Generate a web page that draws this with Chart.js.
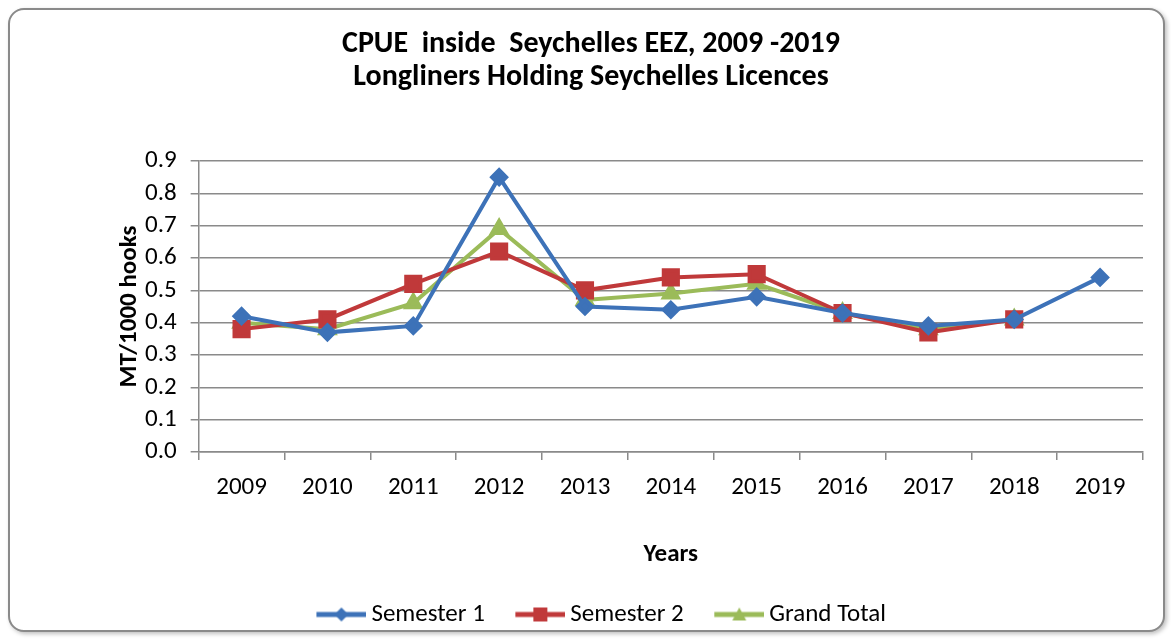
<!DOCTYPE html>
<html>
<head>
<meta charset="utf-8">
<script src="https://cdn.jsdelivr.net/npm/chart.js@4.4.0/dist/chart.umd.min.js"></script>
<style>
  body { margin: 0; background: #fff; }
  #frame {
    position: absolute; left: 8px; top: 8px; width: 1153px; height: 620px;
    border: 2px solid #8a8a8a; border-radius: 16px; background: #fff;
    box-shadow: 2px 2px 4px rgba(0,0,0,0.25);
  }
  #frame canvas { display: block; }
</style>
</head>
<body>
<div id="frame"><canvas id="cpueChart" width="1153" height="620"></canvas></div>
<script>
// Chart data
const years = ['2009', '2010', '2011', '2012', '2013', '2014', '2015', '2016', '2017', '2018', '2019'];
const semester1 = [0.42, 0.37, 0.39, 0.85, 0.45, 0.44, 0.48, 0.43, 0.39, 0.41, 0.54];
const semester2 = [0.38, 0.41, 0.52, 0.62, 0.50, 0.54, 0.55, 0.43, 0.37, 0.41, null];
const grandTotal = [0.40, 0.38, 0.46, 0.69, 0.47, 0.49, 0.52, 0.43, 0.38, 0.41, null];
const yTicks = [0.0, 0.1, 0.2, 0.3, 0.4, 0.5, 0.6, 0.7, 0.8, 0.9];

const FONT = 'Carlito, "Open Sans", sans-serif';
const BLUE = '#3d72b8';
const RED = '#c0393a';
const GREEN = '#9bbb59';

// legend image: empty space on the left, then a line with the marker in its middle
function legendIcon(color, style) {
    const c = document.createElement('canvas');
    c.width = 78; c.height = 18;
    const g = c.getContext('2d');
    g.strokeStyle = color; g.fillStyle = color; g.lineWidth = 5;
    g.beginPath(); g.moveTo(28, 9); g.lineTo(78, 9); g.stroke();
    g.beginPath();
    if (style === 'rect') {
        g.rect(46, 2, 14, 14);
    } else if (style === 'rectRot') {
        g.moveTo(53, 2); g.lineTo(60, 9); g.lineTo(53, 16); g.lineTo(46, 9); g.closePath();
    } else {
        g.moveTo(53, 2); g.lineTo(60, 15); g.lineTo(46, 15); g.closePath();
    }
    g.fill();
    return c;
}

const ctx = document.getElementById('cpueChart').getContext('2d');
new Chart(ctx, {
    type: 'line',
    data: {
        labels: years,
        datasets: [
            { label: 'Semester 1', data: semester1, borderColor: BLUE, backgroundColor: BLUE,
              borderWidth: 4, pointStyle: 'rectRot', pointRadius: 7, tension: 0,
              icon: legendIcon(BLUE, 'rectRot') },
            { label: 'Semester 2', data: semester2, borderColor: RED, backgroundColor: RED,
              borderWidth: 4, pointStyle: 'rect', pointRadius: 10, tension: 0,
              icon: legendIcon(RED, 'rect') },
            { label: 'Grand Total', data: grandTotal, borderColor: GREEN, backgroundColor: GREEN,
              borderWidth: 4, pointStyle: 'triangle', pointRadius: 8, tension: 0,
              icon: legendIcon(GREEN, 'triangle') }
        ]
    },
    options: {
        responsive: false,
        animation: false,
        layout: { padding: { left: 29, right: 20, top: 12, bottom: -7 } },
        plugins: {
            title: {
                display: true,
                text: ['CPUE  inside  Seychelles EEZ, 2009 -2019', 'Longliners Holding Seychelles Licences'],
                color: '#000',
                font: { family: FONT, size: 30, weight: 'bold', lineHeight: 1.1 },
                padding: { top: 6, bottom: 67 }
            },
            legend: {
                position: 'bottom',
                labels: {
                    usePointStyle: true,
                    pointStyleWidth: 63,
                    color: '#000',
                    font: { family: FONT, size: 25 },
                    padding: 10,
                    generateLabels: (chart) => chart.data.datasets.map((d, i) => ({
                        text: d.label, pointStyle: d.icon, datasetIndex: i,
                        fillStyle: d.borderColor, strokeStyle: d.borderColor, fontColor: '#000'
                    }))
                }
            },
            tooltip: { enabled: false }
        },
        scales: {
            x: {
                offset: true,
                grid: { offset: true, drawOnChartArea: false, color: '#8a8a8a', lineWidth: 1.5, tickLength: 8 },
                border: { color: '#8a8a8a', width: 1.5 },
                ticks: { color: '#000', font: { family: FONT, size: 25 }, padding: 13 },
                title: { display: true, text: 'Years', color: '#000',
                         font: { family: FONT, size: 25, weight: 'bold' }, padding: { top: 24, bottom: 22 } }
            },
            y: {
                min: 0, max: 0.9,
                afterBuildTicks: (axis) => { axis.ticks = yTicks.map(v => ({ value: v })); },
                grid: { color: '#8a8a8a', lineWidth: 1.5, tickLength: 8 },
                border: { color: '#8a8a8a', width: 1.5 },
                ticks: { color: '#000', font: { family: FONT, size: 25 }, padding: 14, autoSkip: false,
                         callback: (v) => Number(v).toFixed(1) },
                title: { display: true, text: 'MT/1000 hooks', color: '#000',
                         font: { family: FONT, size: 25, weight: 'bold' }, padding: { top: 76, bottom: -14 } }
            }
        }
    }
});
</script>
</body>
</html>
